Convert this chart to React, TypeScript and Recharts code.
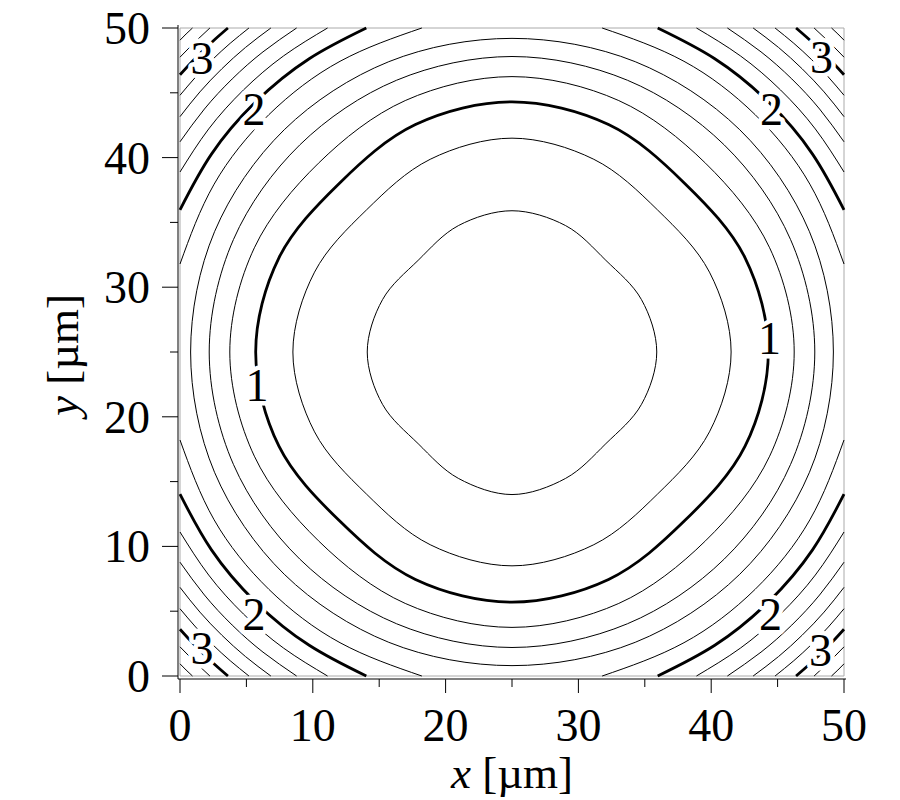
import React from 'react';
import { ComposedChart, Line, XAxis, YAxis, Scatter, ReferenceArea } from 'recharts';

type P = [number, number];

// ---------- axis ticks ----------
const axisTicks = [0, 5, 10, 15, 20, 25, 30, 35, 40, 45, 50];

// ---------- closed contours (value levels 0.6 ... 1.6) ----------
const c06: P[] = [[35.9,25],[34.75,29.04],[32.07,32.07],[29.04,34.75],[25,35.9],[20.96,34.75],[17.93,32.07],[15.25,29.04],[14.1,25],[15.25,20.96],[17.93,17.93],[20.96,15.25],[25,14.0],[29.04,15.25],[32.07,17.93],[34.75,20.96],[35.9,25]];
const c08: P[] = [[41.5,25],[39.87,31.16],[35.96,35.96],[31.16,39.87],[25,41.5],[18.84,39.87],[14.04,35.96],[10.13,31.16],[8.5,25],[10.13,18.84],[14.04,14.04],[18.84,10.13],[25,8.5],[31.16,10.13],[35.96,14.04],[39.87,18.84],[41.5,25]];
const c10: P[] = [[44.3,25],[42.55,32.27],[38.01,38.01],[32.27,42.55],[25,44.3],[17.73,42.55],[11.99,38.01],[7.45,32.27],[5.7,25],[7.45,17.73],[11.99,11.99],[17.73,7.45],[25,5.7],[32.27,7.45],[38.01,11.99],[42.55,17.73],[44.3,25]];
const c12: P[] = [[46.25,25],[44.4,33.04],[39.57,39.57],[33.04,44.4],[25,46.25],[16.96,44.4],[10.43,39.57],[5.6,33.04],[3.75,25],[5.6,16.96],[10.43,10.43],[16.96,5.6],[25,3.75],[33.04,5.6],[39.57,10.43],[44.4,16.96],[46.25,25]];
const c14: P[] = [[47.8,25],[45.97,33.69],[40.98,40.98],[33.69,45.97],[25,47.8],[16.31,45.97],[9.02,40.98],[4.03,33.69],[2.2,25],[4.03,16.31],[9.02,9.02],[16.31,4.03],[25,2.2],[33.69,4.03],[40.98,9.02],[45.97,16.31],[47.8,25]];
const c16: P[] = [[49.2,25],[47.4,34.28],[42.15,42.15],[34.28,47.4],[25,49.2],[15.72,47.4],[7.85,42.15],[2.6,34.28],[0.8,25],[2.6,15.72],[7.85,7.85],[15.72,2.6],[25,0.8],[34.28,2.6],[42.15,7.85],[47.4,15.72],[49.2,25]];

// ---------- corner arcs (levels 1.8 ... 3.4), order: TL, TR, BL, BR ----------
const a18: P[][] = [
  [[18.21,50],[12.05,47.43],[6.69,43.31],[2.57,37.95],[0,31.79]],
  [[31.79,50],[37.95,47.43],[43.31,43.31],[47.43,37.95],[50,31.79]],
  [[18.21,0],[12.05,2.57],[6.69,6.69],[2.57,12.05],[0,18.21]],
  [[31.79,0],[37.95,2.57],[43.31,6.69],[47.43,12.05],[50,18.21]],
];
const a20: P[][] = [
  [[14.03,50],[9.73,47.63],[5.7,44.3],[2.37,40.27],[0,35.97]],
  [[35.97,50],[40.27,47.63],[44.3,44.3],[47.63,40.27],[50,35.97]],
  [[14.03,0],[9.73,2.37],[5.7,5.7],[2.37,9.73],[0,14.03]],
  [[35.97,0],[40.27,2.37],[44.3,5.7],[47.63,9.73],[50,14.03]],
];
const a22: P[][] = [
  [[11.11,50],[7.79,47.84],[4.78,45.22],[2.16,42.21],[0,38.89]],
  [[38.89,50],[42.21,47.84],[45.22,45.22],[47.84,42.21],[50,38.89]],
  [[11.11,0],[7.79,2.16],[4.78,4.78],[2.16,7.79],[0,11.11]],
  [[38.89,0],[42.21,2.16],[45.22,4.78],[47.84,7.79],[50,11.11]],
];
const a24: P[][] = [
  [[8.78,50],[6.25,48.16],[3.93,46.07],[1.84,43.75],[0,41.22]],
  [[41.22,50],[43.75,48.16],[46.07,46.07],[48.16,43.75],[50,41.22]],
  [[8.78,0],[6.25,1.84],[3.93,3.93],[1.84,6.25],[0,8.78]],
  [[41.22,0],[43.75,1.84],[46.07,3.93],[48.16,6.25],[50,8.78]],
];
const a26: P[][] = [
  [[6.84,50],[4.93,48.5],[3.15,46.85],[1.5,45.07],[0,43.16]],
  [[43.16,50],[45.07,48.5],[46.85,46.85],[48.5,45.07],[50,43.16]],
  [[6.84,0],[4.93,1.5],[3.15,3.15],[1.5,4.93],[0,6.84]],
  [[43.16,0],[45.07,1.5],[46.85,3.15],[48.5,4.93],[50,6.84]],
];
const a28: P[][] = [
  [[5.19,50],[3.78,48.82],[2.44,47.56],[1.18,46.22],[0,44.81]],
  [[44.81,50],[46.22,48.82],[47.56,47.56],[48.82,46.22],[50,44.81]],
  [[5.19,0],[3.78,1.18],[2.44,2.44],[1.18,3.78],[0,5.19]],
  [[44.81,0],[46.22,1.18],[47.56,2.44],[48.82,3.78],[50,5.19]],
];
const a30: P[][] = [
  [[3.61,50],[2.66,49.15],[1.74,48.26],[0.85,47.34],[0,46.39]],
  [[46.39,50],[47.34,49.15],[48.26,48.26],[49.15,47.34],[50,46.39]],
  [[3.61,0],[2.66,0.85],[1.74,1.74],[0.85,2.66],[0,3.61]],
  [[46.39,0],[47.34,0.85],[48.26,1.74],[49.15,2.66],[50,3.61]],
];
const a32: P[][] = [
  [[2.25,50],[1.1,48.9],[0,47.75]],
  [[47.75,50],[48.9,48.9],[50,47.75]],
  [[2.25,0],[1.1,1.1],[0,2.25]],
  [[47.75,0],[48.9,1.1],[50,2.25]],
];
const a34: P[][] = [
  [[0.94,50],[0.46,49.54],[0,49.06]],
  [[49.06,50],[49.54,49.54],[50,49.06]],
  [[0.94,0],[0.46,0.46],[0,0.94]],
  [[49.06,0],[49.54,0.46],[50,0.94]],
];

// ---------- contour labels ----------
const labelText = ['1', '1', '2', '2', '2', '2', '3', '3', '3', '3'];
const labelX = [5.8, 44.39, 5.58, 44.54, 5.58, 44.46, 1.66, 48.3, 1.66, 48.23];
const labelY = [22.45, 26.08, 43.75, 43.75, 4.78, 4.78, 47.69, 47.76, 2.16, 2.01];

// ---------- build tables ----------
const closedLevels = [
  { level: 0.6, pts: c06 },
  { level: 0.8, pts: c08 },
  { level: 1.0, pts: c10 },
  { level: 1.2, pts: c12 },
  { level: 1.4, pts: c14 },
  { level: 1.6, pts: c16 },
];
const arcLevels = [
  { level: 1.8, parts: a18 },
  { level: 2.0, parts: a20 },
  { level: 2.2, parts: a22 },
  { level: 2.4, parts: a24 },
  { level: 2.6, parts: a26 },
  { level: 2.8, parts: a28 },
  { level: 3.0, parts: a30 },
  { level: 3.2, parts: a32 },
  { level: 3.4, parts: a34 },
];

const toPts = (a: P[]) => a.map(([x, y]) => ({ x, y }));
const isThick = (lv: number) => Math.abs(lv - Math.round(lv)) < 1e-6;

// closed Catmull-Rom curve (smooth through every point, no seam kink)
const closedSpline = (context: any) => {
  let pts: number[][] = [];
  return {
    areaStart() {},
    areaEnd() {},
    lineStart() {
      pts = [];
    },
    point(x: number, y: number) {
      pts.push([+x, +y]);
    },
    lineEnd() {
      if (pts.length > 2) {
        const f = pts[0];
        const l = pts[pts.length - 1];
        if (Math.abs(f[0] - l[0]) < 1e-6 && Math.abs(f[1] - l[1]) < 1e-6) pts.pop();
      }
      const n = pts.length;
      if (n === 0) return;
      context.moveTo(pts[0][0], pts[0][1]);
      for (let i = 0; i < n; i++) {
        const p0 = pts[(i - 1 + n) % n];
        const p1 = pts[i];
        const p2 = pts[(i + 1) % n];
        const p3 = pts[(i + 2) % n];
        context.bezierCurveTo(
          p1[0] + (p2[0] - p0[0]) / 6,
          p1[1] + (p2[1] - p0[1]) / 6,
          p2[0] - (p3[0] - p1[0]) / 6,
          p2[1] - (p3[1] - p1[1]) / 6,
          p2[0],
          p2[1]
        );
      }
      context.closePath();
    },
  };
};

const series: { key: string; level: number; closed: boolean; data: { x: number; y: number }[] }[] = [];
closedLevels.forEach((c) => series.push({ key: 'c' + c.level, level: c.level, closed: true, data: toPts(c.pts) }));
arcLevels.forEach((a) =>
  a.parts.forEach((p, i) =>
    series.push({ key: 'a' + a.level + '_' + i, level: a.level, closed: false, data: toPts(p) })
  )
);

const labelData = labelText.map((t, i) => ({ x: labelX[i], y: labelY[i], t }));

const FONT = "'Liberation Serif', 'Times New Roman', Times, serif";

const XTick = (props: any) => {
  const { x, y, payload } = props;
  const v = payload.value;
  const major = v % 10 === 0;
  return (
    <g>
      <line x1={x} y1={y} x2={x} y2={y + (major ? 14 : 8)} stroke="#000" strokeWidth={1} />
      {major && (
        <text x={x} y={y + 62} textAnchor="middle" fontFamily={FONT} fontSize={46} fill="#000">
          {v}
        </text>
      )}
    </g>
  );
};

const YTick = (props: any) => {
  const { x, y, payload } = props;
  const v = payload.value;
  const major = v % 10 === 0;
  return (
    <g>
      <line x1={x} y1={y} x2={x - (major ? 16 : 8)} y2={y} stroke="#000" strokeWidth={1} />
      {major && (
        <text x={x - 28} y={y + 16} textAnchor="end" fontFamily={FONT} fontSize={46} fill="#000">
          {v}
        </text>
      )}
    </g>
  );
};

const XTitle = (props: any) => {
  const vb = props.viewBox || { x: 178, y: 679, width: 668, height: 60 };
  return (
    <text x={vb.x + vb.width / 2} y={vb.y + 109} textAnchor="middle" fontFamily={FONT} fontSize={45} fill="#000">
      <tspan fontStyle="italic">x</tspan>
      {' [µm]'}
    </text>
  );
};

const YTitle = (props: any) => {
  const vb = props.viewBox || { x: 0, y: 25, width: 178, height: 654 };
  const cx = 78;
  const cy = vb.y + vb.height / 2 + 3;
  return (
    <text
      x={cx}
      y={cy}
      transform={`rotate(-90 ${cx} ${cy})`}
      textAnchor="middle"
      fontFamily={FONT}
      fontSize={45}
      fill="#000"
    >
      <tspan fontStyle="italic">y</tspan>
      {' [µm]'}
    </text>
  );
};

const LabelShape = (props: any) => {
  const { cx, cy, payload } = props;
  return (
    <text
      x={cx}
      y={cy + 16}
      textAnchor="middle"
      fontFamily={FONT}
      fontSize={46}
      fill="#000"
      stroke="#fff"
      strokeWidth={9}
      paintOrder="stroke"
      strokeLinejoin="round"
    >
      {payload.t}
    </text>
  );
};

export default function App() {
  return (
    <div style={{ position: 'absolute', left: 0, top: 0, width: 900, height: 800, background: '#fff' }}>
      <ComposedChart width={900} height={800} margin={{ top: 25, right: 54, bottom: 61, left: 0 }}>
        <XAxis
          xAxisId="b"
          dataKey="x"
          type="number"
          domain={[0, 50]}
          ticks={axisTicks}
          interval={0}
          padding={{ left: 2, right: 2 }}
          tickSize={0}
          tickMargin={0}
          tickLine={false}
          axisLine={{ stroke: '#000', strokeWidth: 1 }}
          tick={(p: any) => <XTick {...p} />}
          height={60}
          label={<XTitle />}
        />
        <XAxis
          xAxisId="t"
          orientation="top"
          type="number"
          domain={[0, 50]}
          height={0}
          tick={false}
          tickLine={false}
          axisLine={{ stroke: '#000', strokeWidth: 1 }}
        />
        <YAxis
          yAxisId="l"
          dataKey="y"
          type="number"
          domain={[0, 50]}
          ticks={axisTicks}
          interval={0}
          padding={{ top: 3, bottom: 3 }}
          tickSize={0}
          tickMargin={0}
          tickLine={false}
          axisLine={{ stroke: '#000', strokeWidth: 1 }}
          tick={(p: any) => <YTick {...p} />}
          width={178}
          label={<YTitle />}
        />
        <YAxis
          yAxisId="r"
          orientation="right"
          type="number"
          domain={[0, 50]}
          width={0}
          tick={false}
          tickLine={false}
          axisLine={{ stroke: '#000', strokeWidth: 1 }}
        />
        <ReferenceArea xAxisId="b" yAxisId="l" x1={0} x2={50} y1={0} y2={50} fill="none" stroke="#aaaaaa" strokeWidth={1} />
        {series.map((s) => (
          <Line
            key={s.key}
            xAxisId="b"
            yAxisId="l"
            data={s.data}
            dataKey="y"
            type={s.closed ? (closedSpline as any) : 'natural'}
            stroke="#000"
            strokeWidth={isThick(s.level) ? 2.8 : 1}
            dot={false}
            activeDot={false}
            isAnimationActive={false}
            legendType="none"
          />
        ))}
        <Scatter
          xAxisId="b"
          yAxisId="l"
          data={labelData}
          dataKey="y"
          shape={(p: any) => <LabelShape {...p} />}
          isAnimationActive={false}
        />
      </ComposedChart>
    </div>
  );
}
